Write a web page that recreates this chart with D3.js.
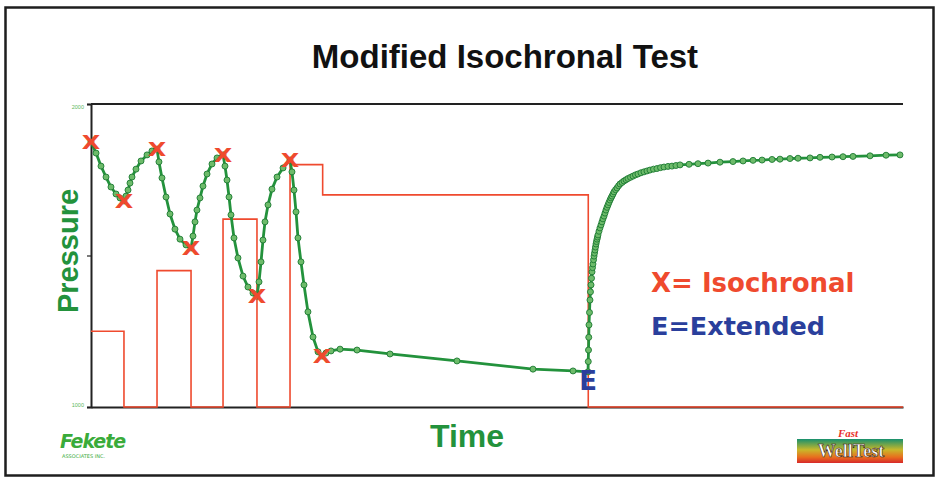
<!DOCTYPE html>
<html>
<head>
<meta charset="utf-8">
<script src="https://cdn.jsdelivr.net/npm/d3@7"></script>
<style>
  body { margin: 0; background: #fff; }
  svg { display: block; }
</style>
</head>
<body>
<svg id="chart" width="937" height="478"></svg>
<script>
// Bottom-hole pressure record (time in hours, pressure in psi)
const timeHours = [
  0, 0.62, 1.23, 1.85, 2.46, 3.08, 3.57, 4.06,
  4.31, 4.56, 4.80, 5.05, 5.54, 6.16, 6.90, 7.51, 8.13,
  8.37, 8.74, 9.24, 9.73, 10.34, 10.96, 11.70, 12.32,
  12.56, 12.81, 13.05, 13.42, 13.79, 14.29, 14.90, 15.52, 16.26,
  16.50, 16.75, 17.00, 17.24, 17.61, 18.10, 18.72, 19.33, 19.95, 20.44,
  20.69, 20.94, 21.18, 21.43, 21.80, 22.29, 22.91, 23.65, 24.51,
  24.75, 25.00, 25.25, 25.49, 25.86, 26.23, 26.72, 27.34, 27.96, 28.45,
  28.94, 29.56, 30.67, 32.76, 36.82, 45.07, 54.43, 59.36, 61.21,
  61.24, 61.27, 61.30, 61.33, 61.39, 61.45, 61.51, 61.58, 61.64, 61.70,
  61.76, 61.82, 61.89, 61.95, 62.01, 62.07, 62.13, 62.19, 62.25, 62.32,
  62.38, 62.44, 62.56, 62.68, 62.81, 62.93, 63.05, 63.18, 63.30, 63.42,
  63.55, 63.67, 63.79, 63.92, 64.04, 64.16, 64.29, 64.41, 64.60, 64.78,
  64.97, 65.15, 65.40, 65.64, 65.89, 66.13, 66.44, 66.75, 67.05, 67.36,
  67.73, 68.10, 68.47, 68.84, 69.27, 69.70, 70.14, 70.57, 71.06, 71.55,
  72.04, 72.54, 73.65, 74.75, 75.99, 77.46, 79.06, 80.30, 81.53, 82.64,
  83.87, 84.85, 86.08, 87.07, 88.55, 89.78, 91.26, 92.61, 93.84, 95.94,
  97.91, 99.63
];
const pressurePsi = [
  1875, 1838, 1795, 1759, 1726, 1703, 1690, 1680,
  1696, 1716, 1739, 1759, 1785, 1812, 1832, 1845, 1851,
  1809, 1756, 1693, 1637, 1587, 1554, 1535, 1525,
  1564, 1611, 1650, 1690, 1729, 1769, 1802, 1822, 1832,
  1795, 1749, 1693, 1634, 1558, 1492, 1432, 1396, 1376, 1366,
  1413, 1479, 1551, 1611, 1667, 1719, 1759, 1789, 1815,
  1776, 1716, 1644, 1558, 1479, 1403, 1314, 1231, 1182, 1168,
  1178, 1185, 1191, 1188, 1175, 1152, 1125, 1119, 1116,
  1150, 1188, 1230, 1271, 1312, 1353, 1380, 1403, 1425, 1446,
  1460, 1472, 1486, 1498, 1508, 1518, 1528, 1538, 1546, 1554,
  1561, 1568, 1580, 1591, 1601, 1611, 1621, 1630, 1640, 1650,
  1659, 1667, 1675, 1683, 1690, 1696, 1703, 1710, 1717, 1723,
  1730, 1736, 1741, 1746, 1750, 1754, 1758, 1762, 1766, 1769,
  1773, 1776, 1779, 1782, 1785, 1787, 1790, 1792, 1794, 1795,
  1797, 1799, 1801, 1803, 1805, 1808, 1810, 1812, 1814, 1815,
  1817, 1818, 1820, 1821, 1822, 1824, 1825, 1826, 1827, 1829,
  1831, 1832
];

// Flow-rate schedule: rateValues[i] holds from rateStepTimes[i] to rateStepTimes[i+1]
const rateStepTimes = [0, 4.06, 8.13, 12.32, 16.26, 20.44, 24.51, 28.53, 61.24, 100];
const rateValues    = [25, 0, 45, 0, 62, 0, 80, 70, 0];

// Isochronal points (end of each flow / shut-in period) and the extended point
const isochronalTimes = [0, 4.06, 8.13, 12.32, 16.26, 20.44, 24.51, 28.45];
const extendedTime = 61.21;

const pressureTicks = [1000, 1500, 2000];
const pressureTickLabels = ["1000", "", "2000"];

const svg = d3.select("#chart");
const W = 937, H = 478;
const plot = { left: 91, right: 903, top: 104, bottom: 407 };

const x = d3.scaleLinear().domain([0, 100]).range([plot.left, plot.right]);
const y = d3.scaleLinear().domain([1000, 2000]).range([plot.bottom, plot.top]);
const yRate = d3.scaleLinear().domain([0, 100]).range([plot.bottom, plot.top]);

const green = "#23923c";
const red = "#ef4a2e";
const blue = "#2a3f9c";

// outer frame
svg.append("rect")
  .attr("x", 5.5).attr("y", 7.5)
  .attr("width", W - 9).attr("height", H - 10)
  .attr("fill", "#fff").attr("stroke", "#1e1e1e").attr("stroke-width", 2.5);

// title
svg.append("text")
  .attr("x", 505).attr("y", 68)
  .attr("text-anchor", "middle")
  .attr("font-family", "Liberation Sans, Arial, sans-serif")
  .attr("font-weight", "bold").attr("font-size", 33)
  .attr("fill", "#111")
  .text("Modified Isochronal Test");

// axes
const yAxis = d3.axisLeft(y)
  .tickValues(pressureTicks)
  .tickFormat((d, i) => pressureTickLabels[i])
  .tickSize(4).tickPadding(3);
const gy = svg.append("g").attr("transform", `translate(${plot.left},0)`).call(yAxis);
gy.select(".domain").attr("stroke", "#222").attr("stroke-width", 2);
gy.selectAll(".tick line").attr("stroke", "#222").attr("stroke-width", 1.2);
gy.selectAll(".tick text")
  .attr("fill", "#5cb85c").attr("font-size", 5.5)
  .attr("font-family", "Liberation Sans, Arial, sans-serif")
  .attr("dy", (d) => d === 2000 ? "0.9em" : "-0.1em");

const xAxis = d3.axisBottom(x).tickValues([]).tickSizeOuter(0);
const gx = svg.append("g").attr("transform", `translate(0,${plot.bottom})`).call(xAxis);
gx.select(".domain").attr("stroke", "#222").attr("stroke-width", 2);

svg.append("line")
  .attr("x1", plot.left).attr("x2", plot.right)
  .attr("y1", plot.top).attr("y2", plot.top)
  .attr("stroke", "#222").attr("stroke-width", 2);

// flow-rate schedule
const ratePts = rateValues.map((r, i) => [rateStepTimes[i], r]);
ratePts.push([rateStepTimes[rateStepTimes.length - 1], 0]);
svg.append("path")
  .datum(ratePts)
  .attr("fill", "none").attr("stroke", red).attr("stroke-width", 1.6)
  .attr("d", d3.line().x(d => x(d[0])).y(d => yRate(d[1])).curve(d3.curveStepAfter));

// pressure response
const pData = timeHours.map((t, i) => ({ t, p: pressurePsi[i] }));
svg.append("path")
  .datum(pData)
  .attr("fill", "none").attr("stroke", green).attr("stroke-width", 2.8)
  .attr("stroke-linejoin", "round")
  .attr("d", d3.line().x(d => x(d.t)).y(d => y(d.p)));

svg.append("g").selectAll("circle")
  .data(pData).join("circle")
  .attr("cx", d => x(d.t)).attr("cy", d => y(d.p))
  .attr("r", 3)
  .attr("fill", "#6dbb6a").attr("stroke", "#1d7a33").attr("stroke-width", 0.9);

// isochronal markers
const pAt = t => pressurePsi[timeHours.indexOf(t)];
svg.append("g").selectAll("text")
  .data(isochronalTimes).join("text")
  .attr("transform", d => `translate(${x(d)},${y(pAt(d)) + 7}) scale(1.2,1)`)
  .attr("text-anchor", "middle")
  .attr("font-family", "DejaVu Sans, Verdana, sans-serif")
  .attr("font-weight", "bold").attr("font-size", 20)
  .attr("fill", red)
  .text("X");

// extended marker
svg.append("text")
  .attr("x", x(extendedTime)).attr("y", y(pAt(extendedTime)) + 18)
  .attr("text-anchor", "middle")
  .attr("font-family", "DejaVu Sans, Verdana, sans-serif")
  .attr("font-weight", "bold").attr("font-size", 26)
  .attr("fill", blue)
  .text("E");

// axis titles
svg.append("text")
  .attr("transform", "translate(78,251) rotate(-90)")
  .attr("text-anchor", "middle")
  .attr("font-family", "Liberation Sans, Arial, sans-serif")
  .attr("font-weight", "bold").attr("font-size", 29)
  .attr("fill", green)
  .text("Pressure");

svg.append("text")
  .attr("x", 467).attr("y", 447)
  .attr("text-anchor", "middle")
  .attr("font-family", "Liberation Sans, Arial, sans-serif")
  .attr("font-weight", "bold").attr("font-size", 32)
  .attr("fill", green)
  .text("Time");

// legend notes
svg.append("text")
  .attr("x", 651).attr("y", 292)
  .attr("font-family", "DejaVu Sans, Verdana, sans-serif")
  .attr("font-weight", "bold").attr("font-size", 26)
  .attr("fill", red)
  .text("X= Isochronal");
svg.append("text")
  .attr("x", 651).attr("y", 335)
  .attr("font-family", "DejaVu Sans, Verdana, sans-serif")
  .attr("font-weight", "bold").attr("font-size", 25.5)
  .attr("fill", blue)
  .text("E=Extended");

// company marks
svg.append("text")
  .attr("x", 60).attr("y", 448)
  .attr("font-family", "DejaVu Sans, sans-serif")
  .attr("font-weight", "bold").attr("font-style", "italic").attr("font-size", 19)
  .attr("fill", "#3aab3a").attr("letter-spacing", -1)
  .text("Fekete");
svg.append("text")
  .attr("x", 62).attr("y", 458)
  .attr("font-family", "DejaVu Sans, sans-serif")
  .attr("font-size", 5).attr("fill", "#3aab3a")
  .text("ASSOCIATES INC.");

const defs = svg.append("defs");
const grad = defs.append("linearGradient").attr("id", "wt").attr("x1", 0).attr("y1", 0).attr("x2", 0).attr("y2", 1);
grad.append("stop").attr("offset", "0%").attr("stop-color", "#17906e");
grad.append("stop").attr("offset", "45%").attr("stop-color", "#c8b82a");
grad.append("stop").attr("offset", "75%").attr("stop-color", "#e8701e");
grad.append("stop").attr("offset", "100%").attr("stop-color", "#d8282a");
svg.append("rect")
  .attr("x", 797).attr("y", 439).attr("width", 106).attr("height", 24)
  .attr("fill", "url(#wt)");
svg.append("text")
  .attr("x", 848).attr("y", 437)
  .attr("text-anchor", "middle")
  .attr("font-family", "Liberation Serif, serif")
  .attr("font-weight", "bold").attr("font-style", "italic").attr("font-size", 11)
  .attr("fill", "#e8302a")
  .text("Fast");
svg.append("text")
  .attr("x", 851).attr("y", 457)
  .attr("text-anchor", "middle")
  .attr("font-family", "Liberation Serif, serif")
  .attr("font-weight", "bold").attr("font-size", 18)
  .attr("fill", "#fff").attr("stroke", "#3a1a10").attr("stroke-width", 0.6)
  .text("WellTest");
</script>
</body>
</html>
